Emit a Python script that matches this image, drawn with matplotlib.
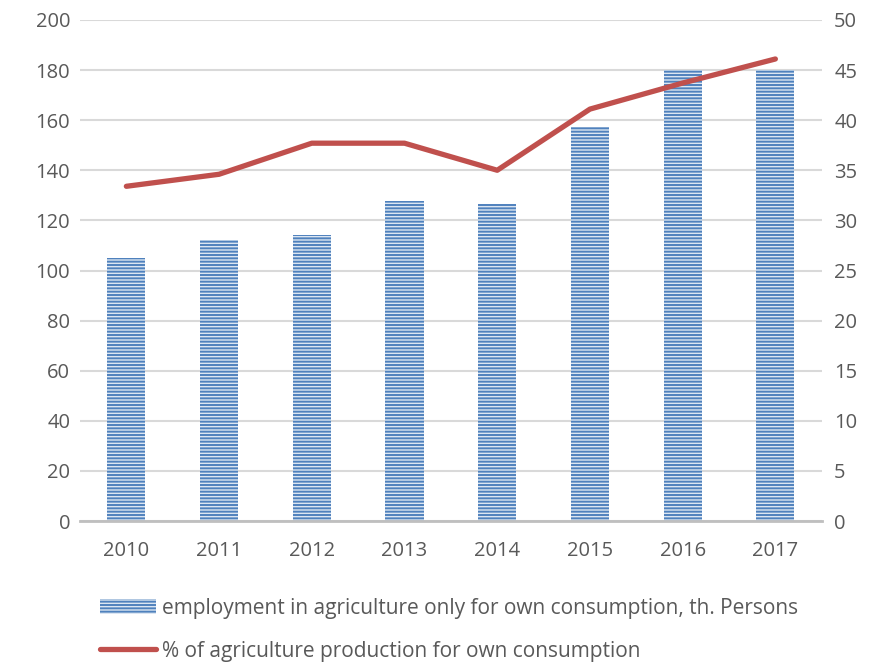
import matplotlib.pyplot as plt
import matplotlib as mpl

years = ["2010", "2011", "2012", "2013", "2014", "2015", "2016", "2017"]
employment = [105, 112, 114.2, 127.7, 126.5, 157.3, 180, 180]
share = [33.4, 34.6, 37.7, 37.7, 35.0, 41.1, 43.7, 46.1]

plt.rcParams['font.family'] = ['Open Sans', 'DejaVu Sans']
plt.rcParams['hatch.linewidth'] = 1.4
plt.rcParams['hatch.color'] = '#4f81bd'

fig = plt.figure(figsize=(8.83, 6.63), dpi=100)
ax = fig.add_axes([0.0906, 0.214, 0.840, 0.756])
ax2 = ax.twinx()

x = range(len(years))
bars = ax.bar(x, employment, width=0.41, color='#dce6f2', edgecolor='#4f81bd',
              hatch='-----', linewidth=0, zorder=2,
              label='employment in agriculture only for own consumption, th. Persons')
line, = ax2.plot(x, share, color='#c0504d', linewidth=3.8, solid_capstyle='round',
                 label='% of agriculture production for own consumption')

ax.set_xlim(-0.5, 7.5)
ax.set_ylim(0, 200)
ax.set_yticks(range(0, 201, 20))
ax2.set_ylim(0, 50)
ax2.set_yticks(range(0, 51, 5))
ax.set_xticks(list(x))
ax.set_xticklabels(years)
ax.grid(axis='y', color='#d9d9d9', linewidth=1.5, zorder=0)
ax.set_axisbelow(True)

for a in (ax, ax2):
    for s in a.spines.values():
        s.set_visible(False)
    a.tick_params(length=0, labelsize=14.5, colors='#595959')
ax.spines['bottom'].set_visible(True)
ax.spines['bottom'].set_color('#bfbfbf')
ax.spines['bottom'].set_linewidth(2)
ax.tick_params(axis='x', pad=14)
ax.tick_params(axis='y', pad=7)
ax2.tick_params(axis='y', pad=9)

leg = fig.legend(handles=[bars, line], loc='upper left', bbox_to_anchor=(0.104, 0.111),
                 frameon=False, fontsize=15, handlelength=2.7, handletextpad=0.25,
                 labelspacing=1.05, borderaxespad=0)
for t in leg.get_texts():
    t.set_color('#595959')

fig.savefig('out.png', dpi=100)
